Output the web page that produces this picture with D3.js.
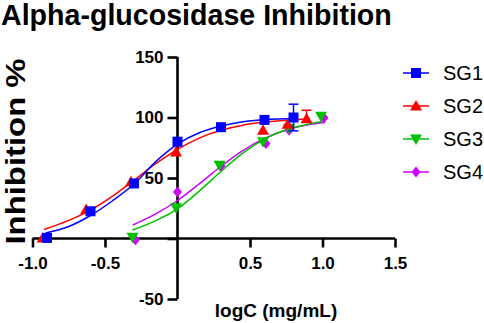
<!DOCTYPE html>
<html><head><meta charset="utf-8">
<script src="https://cdn.jsdelivr.net/npm/d3@7"></script>
<style>body{margin:0;background:#fff}svg{display:block;font-family:"Liberation Sans",Arial,sans-serif}</style>
</head><body>
<svg id="c" width="484" height="323"></svg>
<script>
// ---- data ----
const seriesNames = ["SG1","SG2","SG3","SG4"];
const seriesColors = ["#0000ff","#ff0000","#00c000","#cc00ff"];
const seriesSymbols = ["square","triangle","triangleDown","diamond"];

const sg1X = [-0.9,-0.6,-0.3,0,0.3,0.6,0.8];
const sg1Y = [0.5,22.5,45.5,80,92,98,100];
const sg1Err = [0,0,0,0,0,0,11];

const sg2X = [-0.93,-0.63,-0.32,-0.01,0.59,0.76,0.89];
const sg2Y = [0.5,24,47,71.5,89.5,94.5,99];
const sg2Err = [0,0,0,0,0,0,7];

const sg3X = [-0.31,-0.01,0.29,0.59,0.77,0.99];
const sg3Y = [1,25.5,60.5,80,91,101];
const sg3Err = [0,0,0,0,0,0];

const sg4X = [-0.29,0,0.3,0.61,0.77,1.01];
const sg4Y = [-1,38.5,60,78.5,89.5,99.7];
const sg4Err = [0,0,0,0,0,0];

// fitted curves
const fit1X = [-0.91,-0.75,-0.6,-0.45,-0.3,-0.15,0,0.15,0.3,0.45,0.6,0.82];
const fit1Y = [4.5,9.9,19,31,45,63.5,78,87.4,93,96.5,98.2,99.2];
const fit2X = [-0.92,-0.75,-0.6,-0.45,-0.3,-0.15,0,0.15,0.3,0.45,0.6,0.75,0.91];
const fit2Y = [7.5,15,23.5,34.8,48.2,61.8,73.7,83,89.4,93.6,96.2,97.8,98.7];
const fit3X = [-0.31,-0.15,0,0.15,0.3,0.45,0.6,0.75,0.9,1.0];
const fit3Y = [7,14.8,24.5,39.2,55.4,70.6,82.2,89.9,94.5,96.6];
const fit4X = [-0.31,-0.15,0,0.15,0.3,0.45,0.6,0.75,0.9,1.02];
const fit4Y = [11,20.3,31.4,45.1,59.7,72.7,82.7,89.6,93.9,96.1];

const xTicks = [-1.0,-0.5,0.5,1.0,1.5];
const xTickLabels = ["-1.0","-0.5","0.5","1.0","1.5"];
const yTicks = [150,100,50,0,-50];
const yTickLabels = ["150","100","50","","-50"];

const titleText = "Alpha-glucosidase Inhibition";
const xLabel = "logC (mg/mL)";
const yLabel = "Inhibition %";

// ---- drawing ----
const svg = d3.select("#c");
const x = d3.scaleLinear().domain([-1,1.5]).range([32.5,395]);
const y = d3.scaleLinear().domain([-50,150]).range([299,57]);

const series = [
  {x:sg1X,y:sg1Y,e:sg1Err,fx:fit1X,fy:fit1Y,upOnly:false},
  {x:sg2X,y:sg2Y,e:sg2Err,fx:fit2X,fy:fit2Y,upOnly:true},
  {x:sg3X,y:sg3Y,e:sg3Err,fx:fit3X,fy:fit3Y,upOnly:false},
  {x:sg4X,y:sg4Y,e:sg4Err,fx:fit4X,fy:fit4Y,upOnly:false}
];

function symbolPath(kind){
  if(kind==="square") return d3.symbol(d3.symbolSquare,100)();
  if(kind==="triangle") return "M0,-6L6,4.5L-6,4.5Z";
  if(kind==="triangleDown") return "M0,6L6,-4.5L-6,-4.5Z";
  return "M0,-5.5L4.5,0L0,5.5L-4.5,0Z";
}

// title
svg.append("text").attr("x",1).attr("y",25).attr("font-size",28.6).attr("font-weight","bold").text(titleText);

// y label
svg.append("text").attr("transform","translate(25,151.5) rotate(-90)").attr("text-anchor","middle")
  .attr("font-size",28).attr("font-weight","bold")
  .attr("textLength",186).attr("lengthAdjust","spacingAndGlyphs").text(yLabel);

// x label
svg.append("text").attr("x",276).attr("y",317).attr("text-anchor","middle")
  .attr("font-size",19).attr("font-weight","bold").text(xLabel);

// axes
const xAxis = d3.axisBottom(x).tickValues(xTicks).tickFormat((d,i)=>xTickLabels[i]).tickSize(9).tickPadding(9).tickSizeOuter(0);
const gx = svg.append("g").attr("transform",`translate(0,${y(0)})`).call(xAxis);
const yAxis = d3.axisLeft(y).tickValues(yTicks).tickFormat((d,i)=>yTickLabels[i]).tickSize(10).tickPadding(4).tickSizeOuter(0);
const gy = svg.append("g").attr("transform",`translate(${x(0)},0)`).call(yAxis);
[gx,gy].forEach(g=>{
  g.select(".domain").attr("stroke","#000").attr("stroke-width",2.6);
  g.selectAll(".tick line").attr("stroke","#000").attr("stroke-width",2.6);
  g.selectAll(".tick text").attr("fill","#000").attr("font-size",17).attr("font-weight","bold")
    .attr("font-family","'Liberation Sans',Arial,sans-serif");
});
gx.select(".domain").attr("d",`M${x(-1)},0H${x(1.5)}`);
gy.select(".domain").attr("d",`M0,${y(150)}V${y(-50)}`);

// curves & markers (draw SG4 first so SG1 is on top)
const line = d3.line().curve(d3.curveMonotoneX);
const order = [3,2,1,0];
order.forEach(i=>{
  const s = series[i];
  svg.append("path").attr("fill","none").attr("stroke",seriesColors[i]).attr("stroke-width",1.5)
    .attr("d",line(s.fx.map((v,j)=>[x(v),y(s.fy[j])])));
});
order.forEach(i=>{
  const s = series[i], c = seriesColors[i];
  const g = svg.append("g");
  s.x.forEach((v,j)=>{
    const e = s.e[j];
    if(e>0){
      const cx=x(v), top=y(s.y[j]+e), bot=y(s.upOnly? s.y[j] : s.y[j]-e);
      g.append("line").attr("x1",cx).attr("x2",cx).attr("y1",top).attr("y2",bot).attr("stroke",c).attr("stroke-width",1.5);
      g.append("line").attr("x1",cx-5).attr("x2",cx+5).attr("y1",top).attr("y2",top).attr("stroke",c).attr("stroke-width",1.5);
      if(!s.upOnly) g.append("line").attr("x1",cx-5).attr("x2",cx+5).attr("y1",bot).attr("y2",bot).attr("stroke",c).attr("stroke-width",1.5);
    }
  });
  s.x.forEach((v,j)=>{
    g.append("path").attr("d",symbolPath(seriesSymbols[i])).attr("fill",c)
      .attr("transform",`translate(${x(v)},${y(s.y[j])})`);
  });
});

// legend
const legY = [73,106,139,172];
seriesNames.forEach((n,i)=>{
  const g = svg.append("g").attr("transform",`translate(0,${legY[i]})`);
  g.append("line").attr("x1",403).attr("x2",429).attr("y1",0).attr("y2",0).attr("stroke",seriesColors[i]).attr("stroke-width",1.5);
  g.append("path").attr("d",symbolPath(seriesSymbols[i])).attr("fill",seriesColors[i]).attr("transform","translate(416,0)");
  g.append("text").attr("x",443).attr("y",0).attr("dy","0.36em").attr("font-size",20).text(n);
});
</script>
</body></html>
